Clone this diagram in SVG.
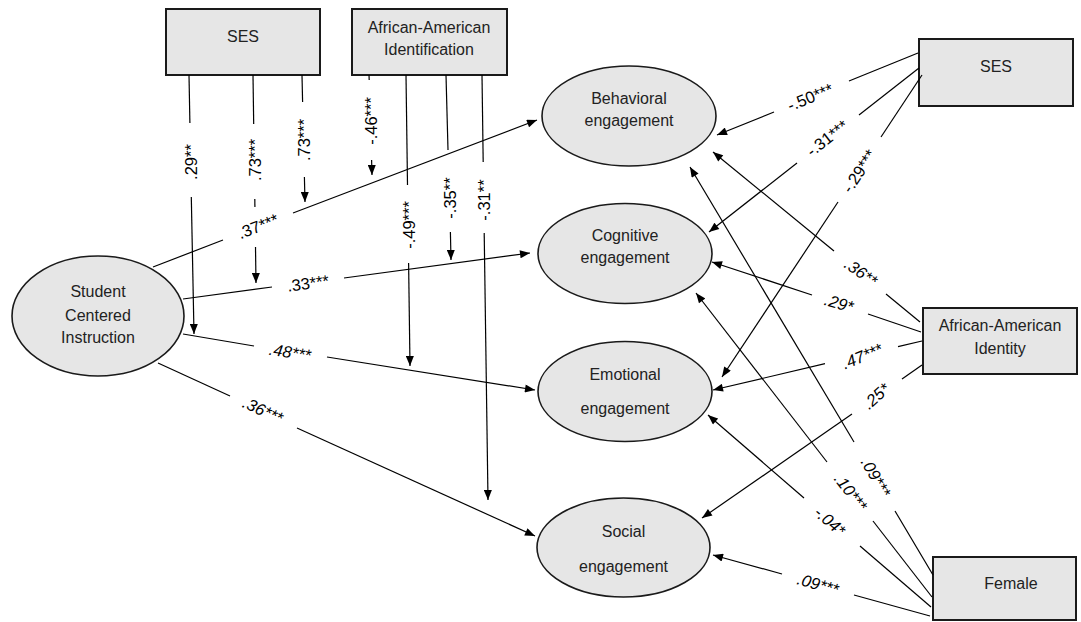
<svg xmlns="http://www.w3.org/2000/svg" width="1081" height="622" viewBox="0 0 1081 622">
<defs>
<marker id="ah" viewBox="0 0 10 8" refX="10" refY="4" markerWidth="11" markerHeight="8" markerUnits="userSpaceOnUse" orient="auto">
<path d="M0,0 L10,4 L0,8 Z" fill="#000"/>
</marker>
</defs>
<style>
.box{fill:#e6e6e6;stroke:#1a1a1a;stroke-width:2}
.ell{fill:#e6e6e6;stroke:#1a1a1a;stroke-width:1.6}
.t{font-family:"Liberation Sans",Arial,sans-serif;font-size:16px;fill:#222;text-anchor:middle}
.c line{stroke:#000;stroke-width:1.2;fill:none}
.a{marker-end:url(#ah)}
.l{font-family:"Liberation Sans",Arial,sans-serif;font-size:16.5px;fill:#000;text-anchor:middle;dominant-baseline:central}
.i{font-style:italic}
</style>
<rect width="1081" height="622" fill="#fff"/>

<g id="ses-top"><rect class="box" x="166" y="9" width="154" height="66"/><text class="t" x="243" y="42">SES</text></g>
<g id="aa-ident"><rect class="box" x="352" y="9" width="155" height="66"/><text class="t" x="429" y="33">African-American</text><text class="t" x="429" y="55">Identification</text></g>
<g id="ses-right"><rect class="box" x="919" y="39" width="154" height="67"/><text class="t" x="996" y="72">SES</text></g>
<g id="aa-identity"><rect class="box" x="923" y="308" width="154" height="66"/><text class="t" x="1000" y="331">African-American</text><text class="t" x="1000" y="354">Identity</text></g>
<g id="female"><rect class="box" x="933" y="557" width="143" height="63"/><text class="t" x="1011" y="589">Female</text></g>

<g id="sci"><ellipse class="ell" cx="98" cy="316" rx="86" ry="60"/><text class="t" x="98" y="297">Student</text><text class="t" x="98" y="321">Centered</text><text class="t" x="98" y="343">Instruction</text></g>
<g id="behavioral"><ellipse class="ell" cx="629" cy="116" rx="87" ry="50"/><text class="t" x="629" y="104">Behavioral</text><text class="t" x="629" y="126">engagement</text></g>
<g id="cognitive"><ellipse class="ell" cx="625" cy="253.5" rx="87" ry="50"/><text class="t" x="625" y="241">Cognitive</text><text class="t" x="625" y="263">engagement</text></g>
<g id="emotional"><ellipse class="ell" cx="625" cy="391.5" rx="87" ry="50"/><text class="t" x="625" y="380">Emotional</text><text class="t" x="625" y="414">engagement</text></g>
<g id="social"><ellipse class="ell" cx="623.5" cy="547.5" rx="86.5" ry="49.5"/><text class="t" x="623.5" y="537">Social</text><text class="t" x="623.5" y="572">engagement</text></g>

<g id="connectors" class="c">
<line x1="153" y1="267" x2="223" y2="240"/><line class="a" x1="293" y1="213" x2="537" y2="120"/>
<line x1="183" y1="299" x2="272" y2="287"/><line class="a" x1="344" y1="278" x2="530" y2="253"/>
<line x1="183" y1="334" x2="254" y2="346"/><line class="a" x1="327" y1="357" x2="535" y2="390"/>
<line x1="158" y1="363" x2="230" y2="396"/><line class="a" x1="297" y1="428" x2="535" y2="536"/>
<line x1="189" y1="75" x2="189.9" y2="123"/><line class="a" x1="191.3" y1="197" x2="194" y2="334"/>
<line x1="253" y1="75" x2="253.7" y2="124"/><line x1="254.8" y1="199" x2="254.9" y2="207"/><line class="a" x1="255.5" y1="247" x2="256" y2="283"/>
<line x1="302" y1="75" x2="302.6" y2="102"/><line class="a" x1="304.4" y1="177" x2="305" y2="202"/>
<line x1="369" y1="75" x2="369.2" y2="80"/><line class="a" x1="371.6" y1="160" x2="372" y2="175"/>
<line x1="406" y1="75" x2="407.5" y2="185"/><line class="a" x1="408.6" y1="263" x2="410" y2="366"/>
<line x1="446" y1="75" x2="448" y2="150"/><line class="a" x1="450.4" y1="232" x2="451" y2="260"/>
<line x1="482" y1="75" x2="483.2" y2="162"/><line class="a" x1="484.2" y1="233" x2="488" y2="500"/>
<line x1="918" y1="53" x2="849" y2="81"/><line class="a" x1="774" y1="112" x2="717" y2="135"/>
<line x1="919" y1="68" x2="859" y2="115"/><line class="a" x1="797" y1="163" x2="709" y2="232"/>
<line x1="922" y1="75" x2="881" y2="137"/><line class="a" x1="838" y1="202" x2="722" y2="377"/>
<line x1="920" y1="322" x2="886" y2="294"/><line class="a" x1="834" y1="251" x2="713" y2="152"/>
<line x1="921" y1="332" x2="868" y2="314"/><line class="a" x1="812" y1="295" x2="712" y2="262"/>
<line x1="922" y1="341" x2="898" y2="346.6"/><line class="a" x1="825" y1="363.7" x2="713" y2="390"/>
<line x1="922" y1="365" x2="902" y2="379"/><line class="a" x1="852" y1="414" x2="702" y2="518"/>
<line x1="933" y1="575" x2="895" y2="511"/><line class="a" x1="854" y1="442" x2="690" y2="167"/>
<line x1="932" y1="597" x2="873" y2="521"/><line class="a" x1="827" y1="462" x2="696" y2="293"/>
<line x1="931" y1="607" x2="860" y2="546"/><line class="a" x1="804" y1="498" x2="708" y2="415"/>
<line x1="930" y1="616" x2="854" y2="595"/><line class="a" x1="782" y1="574" x2="713" y2="555"/>
</g>

<g id="labels">
<text class="l" transform="translate(258,226) rotate(-21)">.37***</text>
<text class="l" transform="translate(308,283) rotate(-7.6)">.33***</text>
<text class="l i" transform="translate(290,352) rotate(9)">.48***</text>
<text class="l i" transform="translate(263,410) rotate(24.6)">.36***</text>
<text class="l" transform="translate(191,162) rotate(-90)">.29**</text>
<text class="l" transform="translate(255,160) rotate(-90)">.73***</text>
<text class="l" transform="translate(304,140) rotate(-90)">.73***</text>
<text class="l" transform="translate(371,121) rotate(-90)">-.46***</text>
<text class="l" transform="translate(409,225) rotate(-90)">-.49***</text>
<text class="l" transform="translate(450,198) rotate(-90)">-.35**</text>
<text class="l" transform="translate(484,200) rotate(-90)">-.31**</text>
<text class="l" transform="translate(810,97) rotate(-22)">-.50***</text>
<text class="l" transform="translate(827,138) rotate(-38)">-.31***</text>
<text class="l" transform="translate(859,171) rotate(-56.5)">-.29***</text>
<text class="l i" transform="translate(861,272) rotate(35)">.36**</text>
<text class="l i" transform="translate(839,303) rotate(16)">.29*</text>
<text class="l i" transform="translate(862,356) rotate(-22)">.47***</text>
<text class="l i" transform="translate(876,396) rotate(-42)">.25*</text>
<text class="l i" transform="translate(876,477) rotate(60)">.09***</text>
<text class="l i" transform="translate(851,492) rotate(52)">.10***</text>
<text class="l i" transform="translate(830,521) rotate(41)">-.04*</text>
<text class="l i" transform="translate(818,584) rotate(15.7)">.09***</text>
</g>
</svg>
